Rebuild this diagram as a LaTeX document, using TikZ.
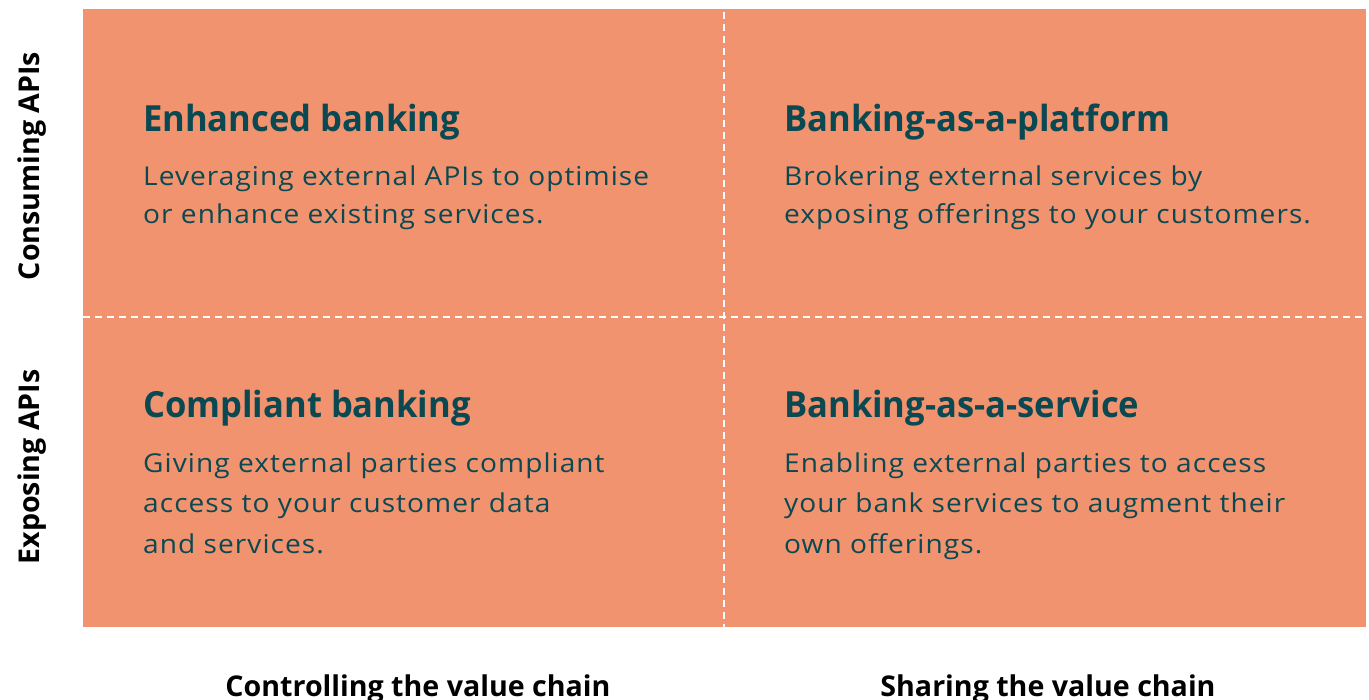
\documentclass[tikz,border=0pt]{standalone}
\usepackage{fontspec}
\setmainfont{Open Sans}
\newfontfamily\bodyfont[FakeStretch=1.08,LetterSpace=4]{Open Sans}
\newfontfamily\titlefont[FakeStretch=0.96]{Open Sans}
\definecolor{panel}{HTML}{F2936F}
\definecolor{teal}{HTML}{0A4852}
\begin{document}
\begin{tikzpicture}[x=1pt,y=-1pt,
  title/.style={anchor=base west,inner sep=0pt,text=teal,font=\titlefont\fontsize{36}{40}\selectfont\bfseries},
  body/.style={anchor=base west,inner sep=0pt,text=teal,font=\bodyfont\fontsize{26}{30}\selectfont},
  axis/.style={inner sep=0pt,text=black,font=\fontsize{28.6}{32}\selectfont\bfseries},
  divider/.style={draw=white,line width=2.2pt,dash pattern=on 7pt off 5pt}]
\useasboundingbox (0,0) rectangle (1369,700);
\fill[panel] (83,9) rectangle (1366,627);
\coordinate (vt) at (724,12);
\coordinate (vb) at (724,627);
\coordinate (hl) at (83,317);
\coordinate (hr) at (1366,317);
\draw[divider] (vt) -- (vb);
\draw[divider] (hl) -- (hr);
% top left
\node[title] (t1) at (143,132) {Enhanced banking};
\node[body] (b1a) at (143,185.5) {Leveraging external APIs to optimise};
\node[body] (b1b) at (143,223.5) {or enhance existing services.};
% top right
\node[title] (t2) at (784,132) {Banking-as-a-platform};
\node[body] (b2a) at (784,185.5) {Brokering external services by};
\node[body] (b2b) at (784,223.5) {exposing offerings to your customers.};
% bottom left
\node[title] (t3) at (143,418) {Compliant banking};
\node[body] (b3a) at (143,473) {Giving external parties compliant};
\node[body] (b3b) at (143,513) {access to your customer data};
\node[body] (b3c) at (143,554) {and services.};
% bottom right
\node[title] (t4) at (784,418) {Banking-as-a-service};
\node[body] (b4a) at (784,473) {Enabling external parties to access};
\node[body] (b4b) at (784,513) {your bank services to augment their};
\node[body] (b4c) at (784,554) {own offerings.};
% axis labels
\node[axis,anchor=base,rotate=90] (ya) at (39,166) {Consuming APIs};
\node[axis,anchor=base,rotate=90] (yb) at (39,467) {Exposing APIs};
\node[axis,anchor=base] (xa) at (418,696) {Controlling the value chain};
\node[axis,anchor=base] (xb) at (1048,696) {Sharing the value chain};
\end{tikzpicture}
\end{document}
